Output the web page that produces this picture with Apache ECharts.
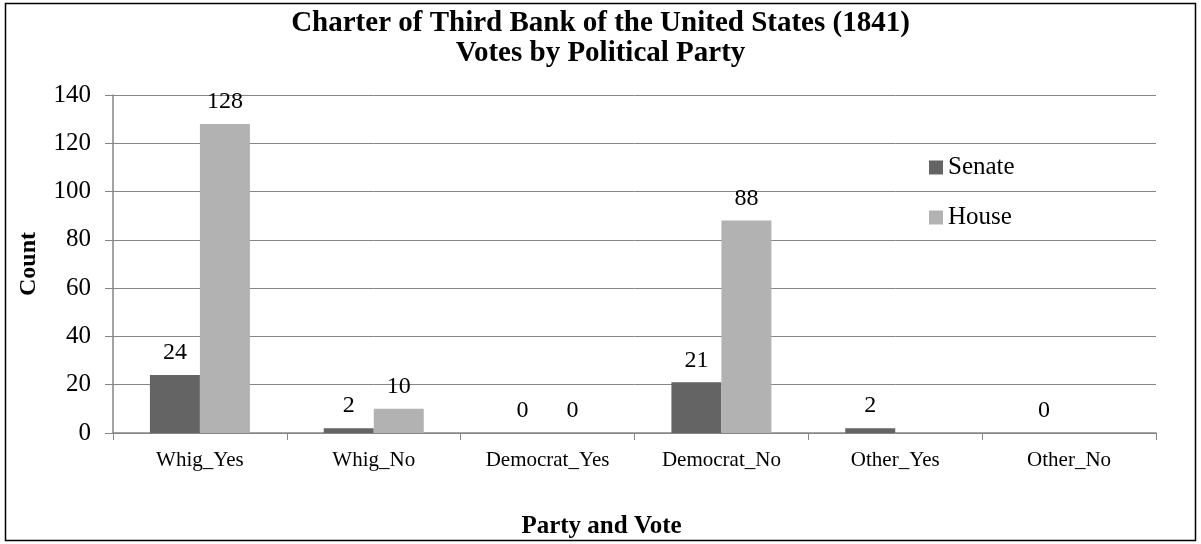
<!DOCTYPE html>
<html><head><meta charset="utf-8">
<script src="https://cdn.jsdelivr.net/npm/echarts@6/dist/echarts.min.js"></script>
<style>html,body{margin:0;padding:0;background:#fff}#c{width:1201px;height:544px}</style>
</head><body><div id="c"></div>
<script>
const categories = ["Whig_Yes","Whig_No","Democrat_Yes","Democrat_No","Other_Yes","Other_No"];
const senate = [24, 2, 0, 21, 2, 0];
const house = [128, 10, 0, 88, null, null];
const yTicks = [0,20,40,60,80,100,120,140];
const F = '"Liberation Serif","Times New Roman",serif';
const chart = echarts.init(document.getElementById('c'));
const lbl = {show:true, position:'top', distance:10, color:'#000', fontFamily:F, fontSize:24,
  formatter: p => (p.value===null||p.value===undefined)?'':String(p.value)};
chart.setOption({
  animation:false,
  title:{text:'Charter of Third Bank of the United States (1841)\nVotes by Political Party', left:'center', top:4,
    textStyle:{fontFamily:F, fontSize:29, fontWeight:'bold', color:'#000', lineHeight:30}},
  graphic:[{type:'rect', shape:{x:5.5,y:3.5,width:1190,height:537}, style:{fill:null, stroke:'#000', lineWidth:1.5}}],
  legend:{orient:'vertical', left:924, top:150, itemWidth:14, itemHeight:14, itemGap:25, icon:'rect',
    textStyle:{fontFamily:F, fontSize:25, color:'#000'}},
  grid:{left:113, right:45, top:95, bottom:110},
  xAxis:{type:'category', data:categories, name:'Party and Vote', nameLocation:'middle', nameGap:81,
    nameTextStyle:{fontFamily:F, fontSize:25, fontWeight:'bold', color:'#000', padding:[0,66,0,0]},
    axisLine:{lineStyle:{color:'#868686', width:1.5}},
    axisTick:{show:true, length:7, lineStyle:{color:'#868686'}},
    axisLabel:{fontFamily:F, fontSize:21, color:'#000', margin:17}},
  yAxis:{type:'value', min:0, max:140, interval:20, name:'Count', nameLocation:'middle', nameGap:72,
    nameTextStyle:{fontFamily:F, fontSize:24, fontWeight:'bold', color:'#000'},
    axisLine:{show:true, lineStyle:{color:'#868686', width:1.5}},
    axisTick:{show:true, length:8, lineStyle:{color:'#868686'}},
    splitLine:{lineStyle:{color:'#868686', width:1}},
    axisLabel:{fontFamily:F, fontSize:25, color:'#000', margin:22,
      formatter: v => yTicks.includes(v)?String(v):''}},
  series:[
    {name:'Senate', type:'bar', data:senate, barWidth:50, barGap:'0%', itemStyle:{color:'#646464'}, label:lbl},
    {name:'House', type:'bar', data:house, barWidth:50, itemStyle:{color:'#b2b2b2'}, label:lbl}
  ]
});
</script></body></html>
